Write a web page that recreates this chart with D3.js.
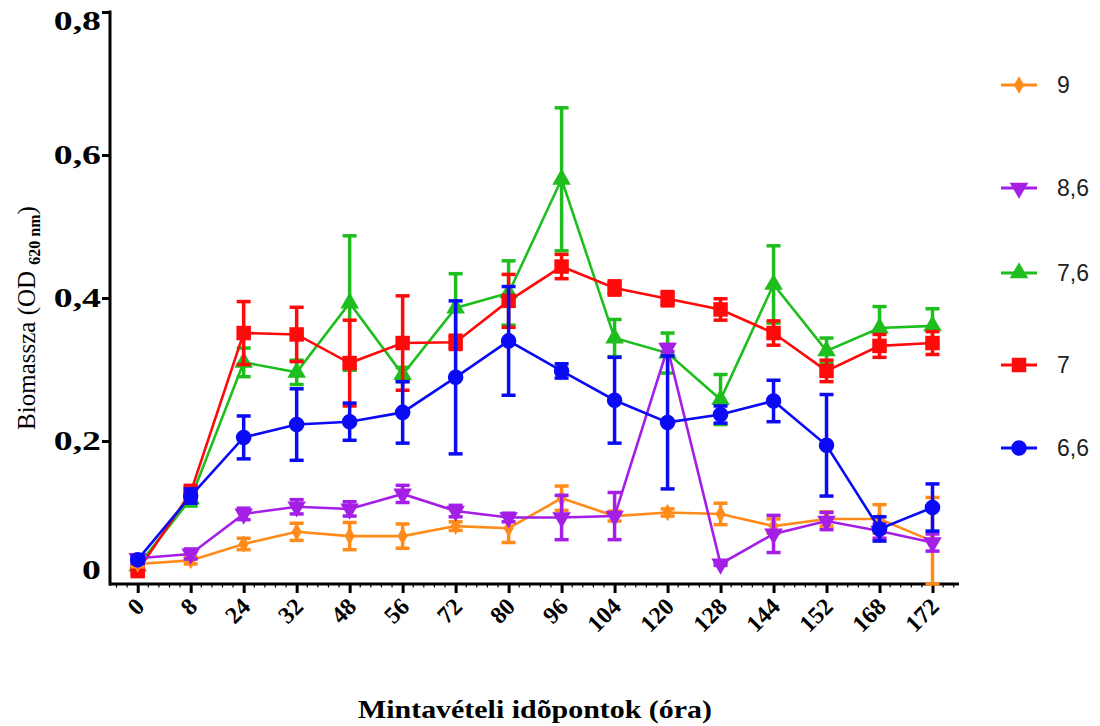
<!DOCTYPE html>
<html>
<head>
<meta charset="utf-8">
<script src="https://cdn.jsdelivr.net/npm/d3@7"></script>
<style>
  html, body { margin: 0; padding: 0; background: #fff; }
  svg { display: block; }
</style>
</head>
<body>
<svg id="chart" width="1100" height="726"></svg>
<script>
// ---------- DATA ----------
const categories = ["0","8","24","32","48","56","72","80","96","104","120","128","144","152","168","172"];
const yTicks = [0, 0.2, 0.4, 0.6, 0.8];
const yTickLabels = ["0", "0,2", "0,4", "0,6", "0,8"];

const seriesNames = ["9", "8,6", "7,6", "7", "6,6"];

const pH9_mean  = [0.028,0.033,0.056,0.073,0.067,0.067,0.081,0.078,0.120,0.095,0.100,0.098,0.081,0.091,0.091,0.060];
const pH9_err   = [0.004,0.005,0.008,0.012,0.019,0.017,0.006,0.020,0.017,0.007,0.005,0.015,0.010,0.010,0.020,0.061];

const pH86_mean = [0.036,0.042,0.098,0.108,0.105,0.126,0.102,0.093,0.093,0.095,0.330,0.028,0.070,0.088,0.074,0.058];
const pH86_err  = [0.005,0.007,0.008,0.010,0.010,0.012,0.008,0.006,0.031,0.033,0.005,0.002,0.026,0.012,0.010,0.012];

const pH76_mean = [0.025,0.119,0.310,0.296,0.393,0.293,0.386,0.407,0.566,0.344,0.323,0.258,0.419,0.326,0.358,0.361];
const pH76_err  = [0.004,0.010,0.020,0.017,0.094,0.010,0.048,0.045,0.100,0.026,0.028,0.035,0.054,0.018,0.030,0.024];

const pH7_mean  = [0.018,0.128,0.351,0.349,0.309,0.337,0.338,0.396,0.444,0.414,0.399,0.384,0.351,0.298,0.333,0.337];
const pH7_err   = [0.004,0.010,0.044,0.038,0.060,0.066,0.010,0.037,0.017,0.010,0.010,0.015,0.017,0.015,0.016,0.016];

const pH66_mean = [0.034,0.123,0.205,0.223,0.227,0.240,0.289,0.340,0.298,0.257,0.226,0.237,0.256,0.194,0.077,0.107];
const pH66_err  = [0.005,0.010,0.030,0.050,0.026,0.043,0.107,0.076,0.010,0.060,0.093,0.012,0.029,0.071,0.017,0.033];

const seriesColors = ["#FF8C1A", "#A41EE6", "#1DBE1D", "#FF0A0A", "#0A0AF5"];

// ---------- SETUP ----------
const svg = d3.select("#chart");
const x = d3.scalePoint().domain(categories).range([137.7, 932.5]);
const y = d3.scaleLinear().domain([0, 0.8]).range([584, 12]);

const series = [
  {name: seriesNames[0], mean: pH9_mean,  err: pH9_err,  color: seriesColors[0], sym: d3.symbolDiamond, size: 90},
  {name: seriesNames[1], mean: pH86_mean, err: pH86_err, color: seriesColors[1], sym: "tridown", size: 150},
  {name: seriesNames[2], mean: pH76_mean, err: pH76_err, color: seriesColors[2], sym: d3.symbolTriangle, size: 150},
  {name: seriesNames[3], mean: pH7_mean,  err: pH7_err,  color: seriesColors[3], sym: d3.symbolSquare, size: 210},
  {name: seriesNames[4], mean: pH66_mean, err: pH66_err, color: seriesColors[4], sym: d3.symbolCircle, size: 190}
];

function symbolPath(s) {
  if (s.sym === "tridown") {
    return d3.symbol().type(d3.symbolTriangle).size(s.size)();
  }
  return d3.symbol().type(s.sym).size(s.size)();
}
function symbolTransform(s, px, py) {
  if (s.sym === "tridown") return `translate(${px},${py}) rotate(180)`;
  return `translate(${px},${py})`;
}

// ---------- AXES ----------
const step = x.step();
const minorPos = [];
for (let i = -1; i < categories.length; i++) {
  for (let k = 1; k <= 4; k++) {
    const p = x(categories[0]) + (i + k / 5) * step;
    if (p > 112 && p < 958) minorPos.push(p);
  }
}
svg.append("g").selectAll("line").data(minorPos).join("line")
  .attr("x1", d => d).attr("x2", d => d)
  .attr("y1", y(0)).attr("y2", y(0) + 3.5)
  .attr("stroke", "#000").attr("stroke-width", 1.2);

const xAxis = d3.axisBottom(x).tickSize(9).tickFormat("");
const gx = svg.append("g").attr("transform", `translate(0,${y(0)})`).call(xAxis);
gx.select(".domain").remove();
gx.selectAll(".tick line").attr("stroke", "#000").attr("stroke-width", 3);
svg.append("line").attr("x1", 109).attr("x2", 959).attr("y1", y(0)).attr("y2", y(0))
  .attr("stroke", "#000").attr("stroke-width", 3);

// x tick labels rotated
svg.append("g").selectAll("text").data(categories).join("text")
  .attr("transform", d => `translate(${x(d) + 8},${y(0) + 24}) rotate(-45)`)
  .attr("text-anchor", "end")
  .attr("font-family", "'Liberation Serif', 'Times New Roman', serif")
  .attr("font-weight", "bold")
  .attr("font-size", 24)
  .text(d => d);

const yAxis = d3.axisLeft(y).tickValues(yTicks.slice(1)).tickSize(8).tickFormat("");
const gy = svg.append("g").attr("transform", `translate(110,0)`).call(yAxis);
gy.select(".domain").remove();
gy.selectAll(".tick line").attr("stroke", "#000").attr("stroke-width", 3);
svg.append("line").attr("x1", 110).attr("x2", 110).attr("y1", y(0.8) - 1.5).attr("y2", y(0) + 1.5)
  .attr("stroke", "#000").attr("stroke-width", 3);

// y tick labels (horizontally stretched like the original)
const yLabelOffset = v => (v === 0.8 ? 9 : (v === 0 ? -14 : 0));
svg.append("g").selectAll("text").data(yTicks).join("text")
  .attr("transform", d => `translate(101,${y(d) + yLabelOffset(d)}) scale(1.4,1)`)
  .attr("dy", "0.35em")
  .attr("text-anchor", "end")
  .attr("font-family", "'Liberation Serif', 'Times New Roman', serif")
  .attr("font-weight", "bold")
  .attr("font-size", 27)
  .text((d, i) => yTickLabels[i]);

// axis titles
const yt = svg.append("text")
  .attr("transform", "translate(35,318) rotate(-90)")
  .attr("text-anchor", "middle")
  .attr("font-family", "'Liberation Serif', 'Times New Roman', serif")
  .attr("font-size", 25);
yt.append("tspan").text("Biomassza (OD ");
yt.append("tspan").attr("font-size", 16).attr("font-weight", "bold").attr("dy", 5).text("620 nm");
yt.append("tspan").attr("dy", -5).text(")");

svg.append("text")
  .attr("x", 358).attr("y", 718)
  .attr("textLength", 354)
  .attr("lengthAdjust", "spacingAndGlyphs")
  .attr("font-family", "'Liberation Serif', 'Times New Roman', serif")
  .attr("font-weight", "bold")
  .attr("font-size", 26)
  .text("Mintavételi idõpontok (óra)");

// ---------- SERIES ----------
const drawOrder = [2, 3, 0, 1, 4];
const line = d3.line().x((d, i) => x(categories[i])).y(d => y(d));

drawOrder.forEach(si => {
  const s = series[si];
  const g = svg.append("g");
  g.append("path").datum(s.mean).attr("d", line)
    .attr("fill", "none").attr("stroke", s.color).attr("stroke-width", 2.6);
  const eb = g.append("g").selectAll("g").data(s.mean).join("g");
  eb.append("line")
    .attr("x1", (d, i) => x(categories[i])).attr("x2", (d, i) => x(categories[i]))
    .attr("y1", (d, i) => y(d + s.err[i])).attr("y2", (d, i) => y(Math.max(0, d - s.err[i])))
    .attr("stroke", s.color).attr("stroke-width", 3.5);
  eb.append("line")
    .attr("x1", (d, i) => x(categories[i]) - 7).attr("x2", (d, i) => x(categories[i]) + 7)
    .attr("y1", (d, i) => y(d + s.err[i])).attr("y2", (d, i) => y(d + s.err[i]))
    .attr("stroke", s.color).attr("stroke-width", 3.5);
  eb.append("line")
    .attr("x1", (d, i) => x(categories[i]) - 7).attr("x2", (d, i) => x(categories[i]) + 7)
    .attr("y1", (d, i) => y(Math.max(0, d - s.err[i]))).attr("y2", (d, i) => y(Math.max(0, d - s.err[i])))
    .attr("stroke", s.color).attr("stroke-width", 3.5);
  eb.append("path")
    .attr("d", symbolPath(s))
    .attr("transform", (d, i) => symbolTransform(s, x(categories[i]), y(d)))
    .attr("fill", s.color);
});

// ---------- LEGEND ----------
const legendY = [85, 188, 273, 365, 448];
const lg = svg.append("g");
series.forEach((s, i) => {
  const g = lg.append("g");
  g.append("line").attr("x1", 1001).attr("x2", 1037).attr("y1", legendY[i]).attr("y2", legendY[i])
    .attr("stroke", s.color).attr("stroke-width", 3);
  g.append("path").attr("d", symbolPath(s)).attr("transform", symbolTransform(s, 1019, legendY[i])).attr("fill", s.color);
  g.append("text").attr("x", 1057).attr("y", legendY[i]).attr("dy", "0.35em")
    .attr("font-family", "'Liberation Sans', Arial, sans-serif")
    .attr("font-size", 23).attr("fill", "#222")
    .text(s.name);
});
</script>
</body>
</html>
